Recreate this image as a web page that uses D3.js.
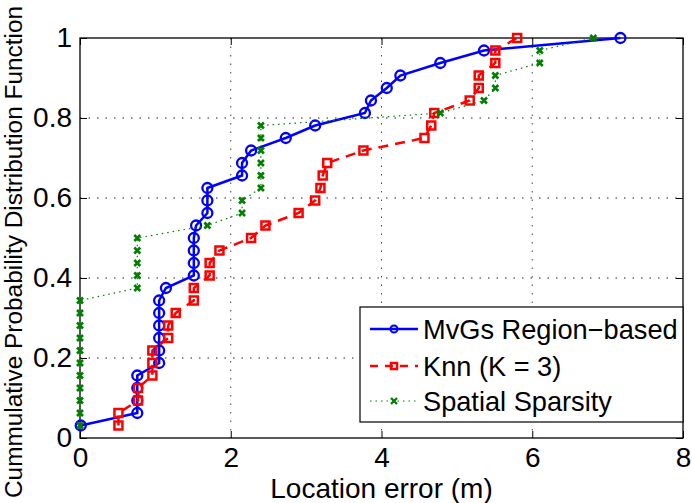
<!DOCTYPE html>
<html>
<head>
<meta charset="utf-8">
<script src="https://cdn.jsdelivr.net/npm/d3@7"></script>
<style>
  body { margin: 0; background: #fff; }
  text { font-family: "Liberation Sans", Arial, sans-serif; fill: #000; }
</style>
</head>
<body>
<div id="chart"></div>
<script>
// location errors (m), sorted; CDF step = 1/32
var mvgsErr = [0.01, 0.76, 0.76, 0.76, 0.76, 1.05, 1.05, 1.05, 1.05, 1.05, 1.05, 1.14,
    1.51, 1.51, 1.51, 1.51, 1.54, 1.69, 1.69, 1.69, 2.15, 2.15, 2.27, 2.73,
    3.12, 3.78, 3.86, 4.07, 4.25, 4.78, 5.36, 7.17];
var knnErr = [0.51, 0.51, 0.77, 0.77, 0.96, 0.96, 0.96, 1.17, 1.17, 1.27, 1.51, 1.51,
    1.72, 1.72, 1.85, 2.27, 2.46, 2.90, 3.12, 3.19, 3.22, 3.28, 3.76, 4.57,
    4.66, 4.70, 5.17, 5.29, 5.29, 5.51, 5.51, 5.80];
var sparseErr = [0, 0, 0, 0, 0, 0, 0, 0, 0, 0, 0, 0.76,
    0.76, 0.76, 0.76, 0.76, 1.69, 2.15, 2.15, 2.40, 2.40, 2.40, 2.40, 2.40,
    2.40, 4.78, 5.36, 5.51, 5.51, 6.10, 6.10, 6.81];
var seriesNames = ["MvGs Region\u2212based", "Knn (K = 3)", "Spatial Sparsity"];
var xTicks = [0, 2, 4, 6, 8];
var yTicks = [0, 0.2, 0.4, 0.6, 0.8, 1];

var W = 692, H = 503;
var margin = {top: 38, right: 9, bottom: 65, left: 80},
    width = W - margin.left - margin.right,
    height = H - margin.top - margin.bottom;
var fs = 28;

var svg = d3.select("#chart").append("svg").attr("width", W).attr("height", H);
var g = svg.append("g").attr("transform", "translate(" + margin.left + "," + margin.top + ")");

var x = d3.scaleLinear().domain([0, 8]).range([0, width]);
var y = d3.scaleLinear().domain([0, 1]).range([height, 0]);

function toCdf(arr) {
    return arr.map(function(v, i) { return {x: v, y: (i + 1) / arr.length}; });
}

// grid
g.append("g").selectAll("line").data(xTicks.slice(1, -1)).enter().append("line")
    .attr("x1", function(d) { return x(d); }).attr("x2", function(d) { return x(d); })
    .attr("y1", 0).attr("y2", height)
    .attr("stroke", "#444").attr("stroke-width", 1).attr("stroke-dasharray", "1.5,7");
g.append("g").selectAll("line").data(yTicks.slice(1, -1)).enter().append("line")
    .attr("y1", function(d) { return y(d); }).attr("y2", function(d) { return y(d); })
    .attr("x1", 0).attr("x2", width)
    .attr("stroke", "#222").attr("stroke-width", 1).attr("stroke-dasharray", "1.5,7");

// axes, ticks inside on all sides
var xAxis = d3.axisBottom(x).tickValues(xTicks).tickSize(-7).tickPadding(9).tickFormat(d3.format("d"));
var yAxis = d3.axisLeft(y).tickValues(yTicks).tickSize(-7).tickPadding(8)
    .tickFormat(function(d) { return d === 0 || d === 1 ? d : d.toFixed(1); });

function styleAxis(sel) {
    sel.select(".domain").remove();
    sel.selectAll(".tick line").attr("stroke", "#000").attr("stroke-width", 1);
    sel.selectAll("text").attr("font-size", fs).attr("font-family", "Liberation Sans, Arial, sans-serif").attr("fill", "#000");
}

g.append("g").attr("transform", "translate(0," + height + ")").call(xAxis).call(styleAxis)
    .selectAll("text").attr("dy", "0.72em");
g.append("g").call(yAxis).call(styleAxis);
g.append("g").call(d3.axisTop(x).tickValues(xTicks).tickSize(-7).tickFormat("")).call(styleAxis);
g.append("g").attr("transform", "translate(" + width + ",0)")
    .call(d3.axisRight(y).tickValues(yTicks).tickSize(-7).tickFormat("")).call(styleAxis);

g.append("rect").attr("width", width).attr("height", height)
    .attr("fill", "none").attr("stroke", "#000").attr("stroke-width", 1.3);

var line = d3.line().x(function(d) { return x(d.x); }).y(function(d) { return y(d.y); });

// MvGs
var blue = toCdf(mvgsErr);
g.append("path").datum(blue).attr("d", line).attr("fill", "none")
    .attr("stroke", "#0000ff").attr("stroke-width", 2.5);
g.append("g").selectAll("circle").data(blue).enter().append("circle")
    .attr("cx", function(d) { return x(d.x); }).attr("cy", function(d) { return y(d.y); })
    .attr("r", 5).attr("fill", "none").attr("stroke", "#0000ff").attr("stroke-width", 2.3);

// Knn
var red = toCdf(knnErr);
g.append("path").datum(red).attr("d", line).attr("fill", "none")
    .attr("stroke", "#ff0000").attr("stroke-width", 2.5).attr("stroke-dasharray", "10,7");
g.append("g").selectAll("rect").data(red).enter().append("rect")
    .attr("x", function(d) { return x(d.x) - 4; }).attr("y", function(d) { return y(d.y) - 4; })
    .attr("width", 8).attr("height", 8).attr("fill", "none")
    .attr("stroke", "#ff0000").attr("stroke-width", 2.5);

// Spatial sparsity
var green = toCdf(sparseErr);
g.append("path").datum(green).attr("d", line).attr("fill", "none")
    .attr("stroke", "#008000").attr("stroke-width", 1.2).attr("stroke-dasharray", "1.5,4");
function cross(sel, s) {
    sel.attr("d", function(d) {
        var cx = x(d.x), cy = y(d.y);
        return "M" + (cx - s) + "," + (cy - s) + "L" + (cx + s) + "," + (cy + s) +
            "M" + (cx - s) + "," + (cy + s) + "L" + (cx + s) + "," + (cy - s);
    }).attr("fill", "none").attr("stroke", "#007f00").attr("stroke-width", 2.6);
}
g.append("g").selectAll("path").data(green).enter().append("path").call(cross, 3);

// legend
var lg = g.append("g").attr("transform", "translate(" + (360 - margin.left) + "," + (307 - margin.top) + ")");
lg.append("rect").attr("width", width - (360 - margin.left)).attr("height", 115)
    .attr("fill", "#fff").attr("stroke", "#000").attr("stroke-width", 1.2);
var rowY = [22, 59, 94];
var colors = ["#0000ff", "#ff0000", "#008000"];
var dashes = [null, "8,7", "1.5,4"];
var widths = [2.5, 2.5, 1.2];
seriesNames.forEach(function(name, i) {
    lg.append("line").attr("x1", 10).attr("x2", 58).attr("y1", rowY[i]).attr("y2", rowY[i])
        .attr("stroke", colors[i]).attr("stroke-width", widths[i]).attr("stroke-dasharray", dashes[i]);
    lg.append("text").attr("x", 63).attr("y", rowY[i]).attr("dy", "0.35em")
        .attr("font-size", 27.2).text(name);
});
lg.append("circle").attr("cx", 34).attr("cy", rowY[0]).attr("r", 3.5)
    .attr("fill", "none").attr("stroke", "#0000ff").attr("stroke-width", 2);
lg.append("rect").attr("x", 31).attr("y", rowY[1] - 3).attr("width", 6).attr("height", 6)
    .attr("fill", "none").attr("stroke", "#ff0000").attr("stroke-width", 2.5);
lg.append("path").attr("d", "M31," + (rowY[2] - 3) + "L37," + (rowY[2] + 3) + "M31," + (rowY[2] + 3) + "L37," + (rowY[2] - 3))
    .attr("stroke", "#007f00").attr("stroke-width", 2.4);

// axis labels
svg.append("text").attr("x", margin.left + width / 2).attr("y", 498)
    .attr("text-anchor", "middle").attr("font-size", fs).text("Location error (m)");
svg.append("text").attr("transform", "translate(22,252) rotate(-90)")
    .attr("text-anchor", "middle").attr("font-size", 24.4).text("Cummulative Probability Distribution Function");
</script>
</body>
</html>
